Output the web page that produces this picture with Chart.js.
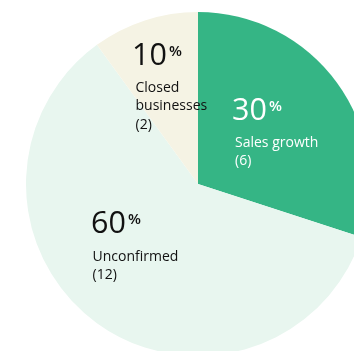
<!DOCTYPE html>
<html>
<head>
<meta charset="utf-8">
<script src="https://cdn.jsdelivr.net/npm/chart.js@4"></script>
<style>
  html, body { margin: 0; padding: 0; background: #ffffff; overflow: hidden; width: 354px; height: 351px; }
  #wrap { position: absolute; left: 26px; top: 12px; width: 344px; height: 344px; }
</style>
</head>
<body>
<div id="wrap"><canvas id="c" width="344" height="344"></canvas></div>
<script>
// ---- data ----
const categories = [['Sales growth'], ['Unconfirmed'], ['Closed', 'businesses']];
const counts = [6, 12, 2];
const percents = [30, 60, 10];

// ---- styles ----
const sliceColors = ['#35b585', '#e8f6ef', '#f5f3e4'];
const textColors = ['#ffffff', '#111111', '#111111'];
// label anchor offsets (px) relative to pie centre: [bigNumLeft, bigNumBaseline, textLeft, firstTextBaseline]
const labelOffsets = [
  [34, -64, 37, -37.5],
  [-107, 49, -105.5, 76.5],
  [-66, -119, -62.5, -92.5]
];

const labelPlugin = {
  id: 'sliceLabels',
  afterDatasetsDraw(chart) {
    const ctx = chart.ctx;
    const arc = chart.getDatasetMeta(0).data[0];
    const cx = arc.x, cy = arc.y;
    ctx.save();
    ctx.textBaseline = 'alphabetic';
    ctx.textAlign = 'left';
    percents.forEach((p, i) => {
      const o = labelOffsets[i];
      ctx.fillStyle = textColors[i];
      ctx.font = '30.5px "Open Sans"';
      const num = String(p);
      ctx.fillText(num, cx + o[0], cy + o[1]);
      const w = ctx.measureText(num).width;
      ctx.font = '600 15px "Open Sans"';
      ctx.fillText('%', cx + o[0] + w + 2, cy + o[1] - 9);
      ctx.font = '14px "Open Sans"';
      const lines = categories[i].concat(['(' + counts[i] + ')']);
      lines.forEach((t, k) => {
        ctx.fillText(t, cx + o[2], cy + o[3] + k * 18.5);
      });
    });
    ctx.restore();
  }
};

new Chart(document.getElementById('c'), {
  type: 'pie',
  data: {
    labels: categories,
    datasets: [{
      data: counts,
      backgroundColor: sliceColors,
      borderWidth: 0,
      hoverOffset: 0
    }]
  },
  options: {
    responsive: false,
    animation: false,
    devicePixelRatio: 1,
    layout: { padding: 0 },
    plugins: { legend: { display: false }, tooltip: { enabled: false } }
  },
  plugins: [labelPlugin]
});
</script>
</body>
</html>
